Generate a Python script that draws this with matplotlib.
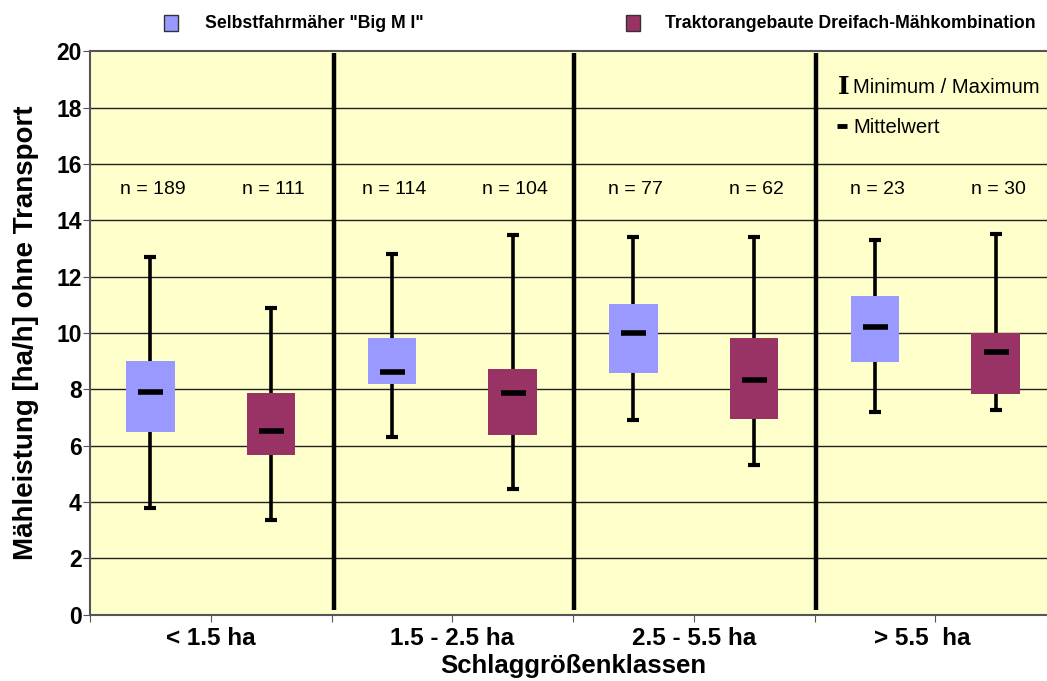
import matplotlib
matplotlib.use("Agg")
import matplotlib.pyplot as plt
import numpy as np

categories = ["< 1.5 ha", "1.5 - 2.5 ha", "2.5 - 5.5 ha", "> 5.5  ha"]
series_names = ['Selbstfahrmäher "Big M I"', "Traktorangebaute Dreifach-Mähkombination"]

# Selbstfahrmäher
blue_min = [3.80, 6.31, 6.90, 7.20]
blue_low = [6.50, 8.20, 8.59, 8.98]
blue_mean = [7.92, 8.60, 10.01, 10.22]
blue_high = [9.01, 9.82, 11.03, 11.31]
blue_max = [12.71, 12.82, 13.41, 13.31]
blue_n = [189, 114, 77, 23]

# Traktorangebaute Dreifach-Mähkombination
red_min = [3.36, 4.45, 5.31, 7.27]
red_low = [5.67, 6.39, 6.96, 7.85]
red_mean = [6.53, 7.86, 8.33, 9.31]
red_high = [7.87, 8.72, 9.82, 9.99]
red_max = [10.89, 13.47, 13.41, 13.51]
red_n = [111, 104, 62, 30]

yticks = [0, 2, 4, 6, 8, 10, 12, 14, 16, 18, 20]

BLUE = "#9999FF"
RED = "#993366"
BG = "#FFFFCC"
FONT = "Liberation Sans"
plt.rcParams["font.family"] = [FONT, "DejaVu Sans"]

fig = plt.figure(figsize=(10.47, 6.81), dpi=100)
ax = fig.add_axes([90 / 1047, 66.3 / 681, 966 / 1047, 563.4 / 681])
ax.set_facecolor(BG)
ax.set_xlim(-0.5, 3.5)
ax.set_ylim(0, 20)
ax.xaxis.remove_overlapping_locs = False

for y in yticks[1:-1]:
    ax.axhline(y, color="#222222", lw=1.0, zorder=1)

x = np.arange(len(categories))
off = 0.25
bw = 0.2
for xs, lo, hi, mn, mx, me, col, ns in [
    (x - off, blue_low, blue_high, blue_min, blue_max, blue_mean, BLUE, blue_n),
    (x + off, red_low, red_high, red_min, red_max, red_mean, RED, red_n),
]:
    ax.vlines(xs, mn, mx, color="black", lw=2.6, zorder=2)
    ax.plot(xs, mn, ls="none", marker="_", ms=9, mew=3, color="black", zorder=2)
    ax.plot(xs, mx, ls="none", marker="_", ms=9, mew=3, color="black", zorder=2)
    ax.bar(xs, np.array(hi) - np.array(lo), bottom=lo, width=bw, color=col,
           edgecolor="none", zorder=3)
    ax.plot(xs, me, ls="none", marker="_", ms=18, mew=4, color="black", zorder=4)
    for xi, n in zip(xs, ns):
        ax.text(xi + 0.01, 15.1, f"n = {n}", ha="center", va="center",
                fontsize=14, color="black", zorder=5)

for b in [0.51, 1.505, 2.505]:
    ax.vlines(b, 0.15, 19.95, color="black", lw=3.2, zorder=5)

ax.set_yticks(yticks)
ax.set_yticklabels([str(v) for v in yticks], fontsize=16.5, fontweight="bold")
ax.set_xticks(np.arange(-0.5, 3.51, 0.5))
ax.set_xticklabels([])
ax.set_xticks(x, minor=True)
ax.set_xticklabels([c + ("    " if i == len(categories) - 1 else "")
                    for i, c in enumerate(categories)],
                   minor=True, fontsize=17.5, fontweight="bold")
ax.tick_params(axis="x", which="major", length=5, color="#555555", direction="out")
ax.tick_params(axis="x", which="minor", length=0, pad=9)
ax.tick_params(axis="y", length=5, color="#555555", pad=1)
for s in ["top", "bottom", "left", "right"]:
    ax.spines[s].set_color("#555555")
    ax.spines[s].set_linewidth(1.5)

ax.set_xlabel("Schlaggrößenklassen", fontsize=18.5, fontweight="bold", labelpad=3)
ax.set_ylabel("Mähleistung [ha/h] ohne Transport", fontsize=20, fontweight="bold",
              labelpad=12)

# annotation
ax.text(2.62, 18.72, "I", fontsize=18, fontweight="bold",
        family="DejaVu Serif", ha="center", va="center")
ax.text(2.66, 18.72, "Minimum / Maximum", fontsize=14.6, ha="left", va="center")
ax.plot([2.612], [17.35], marker="_", ms=7, mew=3.5, color="black")
ax.text(2.66, 17.28, "Mittelwert", fontsize=14.6, ha="left", va="center")

# legend
for hx, tx, col, name in [(164, 205, BLUE, series_names[0]), (626, 665, RED, series_names[1])]:
    fig.patches.append(plt.Rectangle((hx / 1047, 1 - 31 / 681), 14 / 1047, 16 / 681,
                                     facecolor=col, edgecolor="#333333", lw=1,
                                     transform=fig.transFigure, figure=fig))
    fig.text(tx / 1047, 1 - 23 / 681, name, fontsize=12.7, fontweight="bold",
             ha="left", va="center")

fig.savefig("out.png", dpi=100, facecolor="white")
